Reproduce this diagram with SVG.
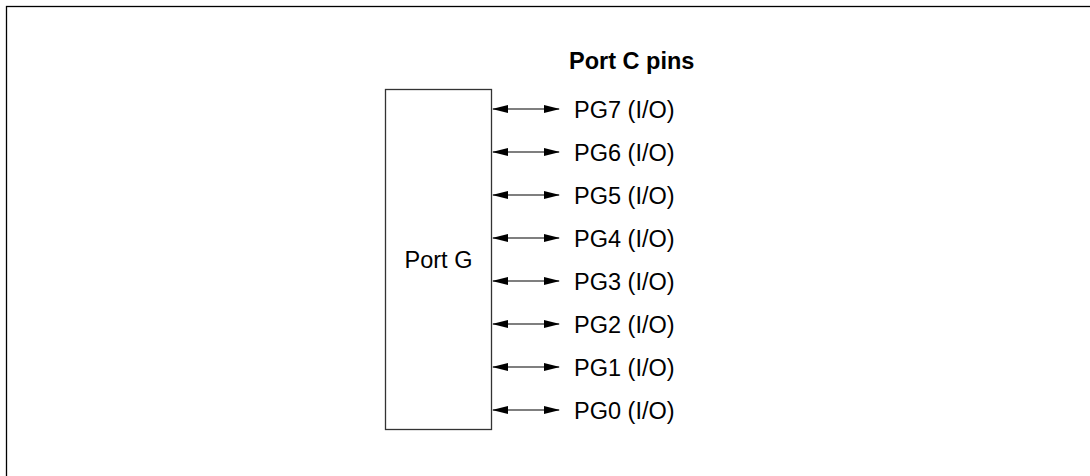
<svg xmlns="http://www.w3.org/2000/svg" width="1090" height="476" viewBox="0 0 1090 476">
<style>
text{font-family:"Liberation Sans",Arial,sans-serif;font-size:23.5px;fill:#000}
.t{font-weight:bold;font-size:23.5px}
.box{fill:#fff;stroke:#333;stroke-width:1.3}
.c{stroke:#000;stroke-width:1.2;fill:none}
</style>
<defs>
<marker id="ah" markerWidth="16" markerHeight="8" refX="15" refY="4" orient="auto-start-reverse" markerUnits="userSpaceOnUse">
<path d="M0,0 L16,4 L0,8 Z" fill="#000"/>
</marker>
</defs>
<rect x="6.5" y="6.5" width="1100" height="500" fill="none" stroke="#000" stroke-width="1.3"/>
<g id="title"><text class="t" x="569" y="68.5">Port C pins</text></g>
<g id="portG">
<rect class="box" x="385.5" y="89.5" width="106" height="340"/>
<text x="438.5" y="267.5" text-anchor="middle">Port G</text>
</g>
<g id="connectors">
<line class="c" x1="493" y1="109" x2="559" y2="109" marker-start="url(#ah)" marker-end="url(#ah)"/>
<line class="c" x1="493" y1="152" x2="559" y2="152" marker-start="url(#ah)" marker-end="url(#ah)"/>
<line class="c" x1="493" y1="195" x2="559" y2="195" marker-start="url(#ah)" marker-end="url(#ah)"/>
<line class="c" x1="493" y1="238" x2="559" y2="238" marker-start="url(#ah)" marker-end="url(#ah)"/>
<line class="c" x1="493" y1="281" x2="559" y2="281" marker-start="url(#ah)" marker-end="url(#ah)"/>
<line class="c" x1="493" y1="324" x2="559" y2="324" marker-start="url(#ah)" marker-end="url(#ah)"/>
<line class="c" x1="493" y1="367" x2="559" y2="367" marker-start="url(#ah)" marker-end="url(#ah)"/>
<line class="c" x1="493" y1="410" x2="559" y2="410" marker-start="url(#ah)" marker-end="url(#ah)"/>
</g>
<g id="pins">
<text x="574" y="117.5">PG7 (I/O)</text>
<text x="574" y="160.5">PG6 (I/O)</text>
<text x="574" y="203.5">PG5 (I/O)</text>
<text x="574" y="246.5">PG4 (I/O)</text>
<text x="574" y="289.5">PG3 (I/O)</text>
<text x="574" y="332.5">PG2 (I/O)</text>
<text x="574" y="375.5">PG1 (I/O)</text>
<text x="574" y="418.5">PG0 (I/O)</text>
</g>
</svg>
